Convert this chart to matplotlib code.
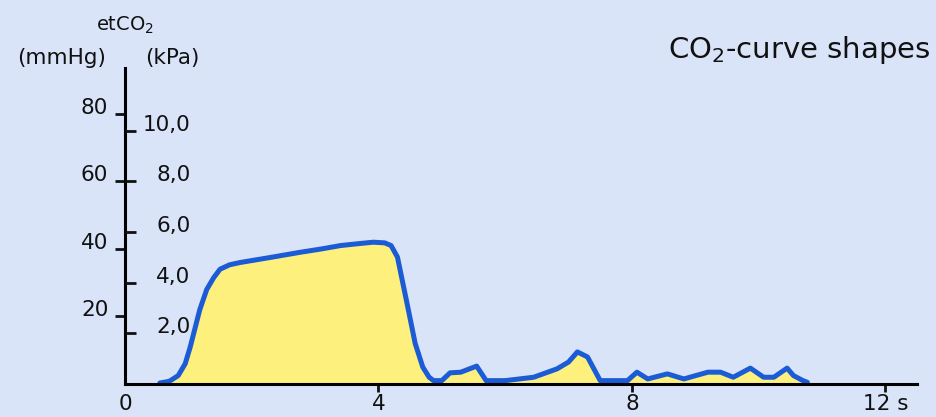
import matplotlib.pyplot as plt

# etCO2 curve, time in s, value in mmHg
t = [0.55, 0.7, 0.84, 0.95, 1.03, 1.18, 1.29, 1.4, 1.5, 1.65, 1.82, 2.3, 2.76, 3.1,
     3.4, 3.7, 3.92, 4.1, 4.2, 4.3, 4.45, 4.58, 4.7, 4.8, 4.87, 5.0, 5.13, 5.3, 5.55,
     5.7, 6.0, 6.45, 6.82, 7.0, 7.14, 7.3, 7.5, 7.93, 8.08, 8.25, 8.56, 8.82, 9.2, 9.4,
     9.6, 9.87, 10.08, 10.24, 10.45, 10.55, 10.7, 10.77]
co2 = [0.3, 0.8, 2.5, 6, 11, 22, 28, 31.5, 34, 35.3, 36, 37.5, 39, 40,
       41, 41.6, 42, 41.8, 41, 37.6, 24, 12, 5, 2, 1, 1, 3.3, 3.5, 5.3,
       1, 1, 2, 4.5, 6.5, 9.5, 8, 1, 1, 3.5, 1.5, 3, 1.5, 3.5, 3.5,
       2, 4.7, 2, 2, 4.7, 2.5, 1, 0.5]

mmhg_ticks = [20, 40, 60, 80]
kpa_ticks = [2, 4, 6, 8, 10]
kpa_labels = ["2,0", "4,0", "6,0", "8,0", "10,0"]
x_ticks = [0, 4, 8, 12]
x_labels = ["0", "4", "8", "12 s"]

bg = "#d9e4f9"
plt.rcParams['font.family'] = 'DejaVu Sans'

fig = plt.figure(figsize=(9.36, 4.17), dpi=100, facecolor=bg)
ax = fig.add_axes([125/936, 33/417, 792/936, 316/417])
ax.set_facecolor(bg)
ax.set_xlim(0, 12.5)
ax.set_ylim(0, 93.6)

ax.fill_between(t, co2, 0, color="#fdf07c", lw=0, zorder=1)
ax.plot(t, co2, color="#1c5bd6", lw=3.6, solid_joinstyle="round",
        solid_capstyle="round", zorder=2)

for s in ["top", "right"]:
    ax.spines[s].set_visible(False)
for s in ["left", "bottom"]:
    ax.spines[s].set_linewidth(2.2)
    ax.spines[s].set_zorder(3)

ax.set_yticks(mmhg_ticks)
ax.set_yticklabels([str(v) for v in mmhg_ticks], va="baseline")
ax.tick_params(axis="y", length=7, width=2, pad=5, labelsize=15.5, colors="#111111")
ax.set_xticks(x_ticks)
ax.set_xticklabels(x_labels)
ax.tick_params(axis="x", length=6, width=2, pad=1.5, labelsize=15.5, colors="#111111")
ax.xaxis.get_major_ticks()[0].tick1line.set_visible(False)

# kPa scale on the same vertical line, ticks pointing right
ax2 = ax.twinx()
ax2.set_ylim(0, 93.6 / 7.5)
for s in ["top", "left", "bottom", "right"]:
    ax2.spines[s].set_visible(False)
ax2.spines["right"].set_position(("axes", 0))
ax2.set_yticks(kpa_ticks)
ax2.set_yticklabels(kpa_labels, ha="right", va="baseline")
ax2.tick_params(axis="y", length=8, width=2, pad=39, labelsize=15.5, colors="#111111")

fig.text(125/936, 1 - 25/417, "etCO$_2$", ha="center", va="center", fontsize=14, color="#111111")
fig.text(62/936, 1 - 58/417, "(mmHg)", ha="center", va="center", fontsize=15.5, color="#111111")
fig.text(172/936, 1 - 58/417, "(kPa)", ha="center", va="center", fontsize=15.5, color="#111111")
fig.text(930/936, 1 - 50/417, "CO$_2$-curve shapes", ha="right", va="center",
         fontsize=21, color="#111111")

fig.savefig("out.png", dpi=100, facecolor=bg)
